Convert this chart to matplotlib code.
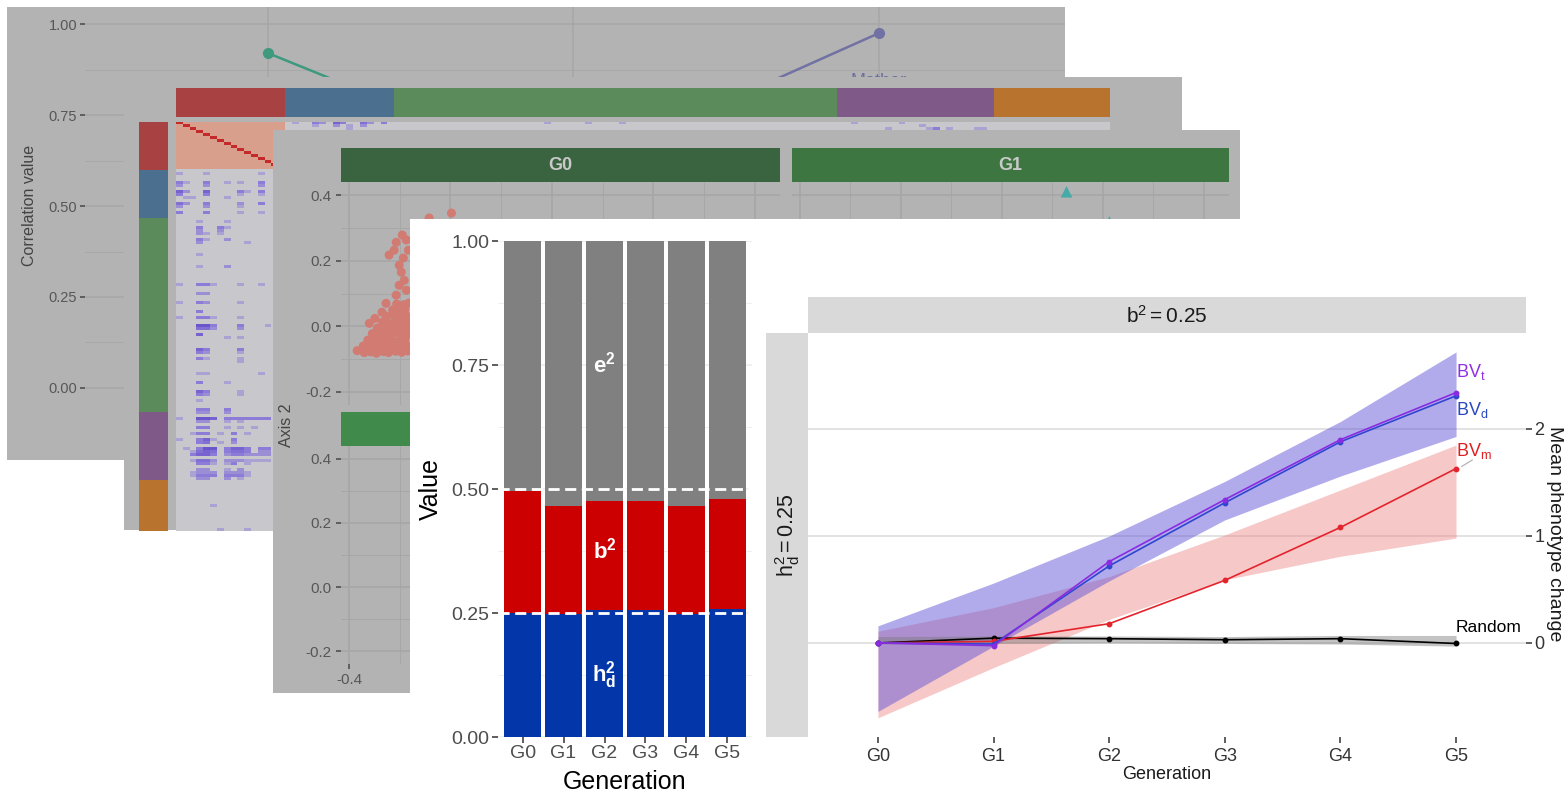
import numpy as np
import matplotlib
matplotlib.use("Agg")
import matplotlib.pyplot as plt
from matplotlib import font_manager
from matplotlib.colors import LinearSegmentedColormap

# ------------------------------------------------------------------ data
# correlation profile (back layer)
corr_x = [0, 1, 2]
corr_teal = [0.92, 0.58]        # positions 0, 1
corr_purple = [0.60, 0.975]     # positions 1, 2

# correlation heatmap: group sizes / colours and visible off-block spots
group_sizes = [16, 16, 65, 23, 17]
group_colors = ["#a84242", "#4b6f8e", "#5b8b5b", "#7f5987", "#b8742f"]
red_within = 0.45
# row index -> strength of negative correlation (tenths) for columns 0..14
corr_rows = {
    17: "2...2.......2..", 20: "42..4..2.2..4..", 21: "3...3.......3..",
    23: "63..6....42.4..", 24: "4...4....2..2..", 25: ".22....2.......",
    27: "53..4....3..4..", 28: "3...3....2.....", 30: "4...4....2..2..",
    33: "...2...2.......", 35: "...4..42.......", 36: "...3..3........",
    37: "...32.2........", 39: "...42..3.......", 40: "...3......2....",
    44: "...2...........", 48: "...2...3.......", 54: "2..442...2..2..",
    57: "...33..........", 60: "2..43....2.....", 63: "...4...........",
    65: "2..442...2.....", 68: "...774...4...2.", 69: "...553...3.....",
    71: "...6...........", 72: ".......2.2.....", 76: "...64....4.....",
    77: "...43....2.....", 79: "...42....2.....", 80: ".........2.....",
    84: "...22.......2..", 87: "...4...2.......", 90: "...64....2.....",
    91: "...43....2.....", 93: "...2...........", 96: "...44..4.......",
    97: "...33..3.......", 99: "2..776.4444444.", 100: "...33..2.2.....",
    102: "...44..2.2.2...", 104: "..244.2.4.2....", 106: "2..462..4......",
    107: "...45.2.3......", 109: ".2.477.4664.44.", 110: "..2565.4554.33.",
    111: "..4664.3443333.", 113: "..2553.3332222.", 114: "...442.24.2....",
    116: "...33..2.3.....", 117: "..2333.3332....", 118: "..2444.4442....",
    119: "...33..3.2.....", 128: ".....2.........", 136: "......2...2....",
}

# ordination scores, generation G0
pc_x = [-0.384, -0.370, -0.357, -0.346, -0.332, -0.322, -0.308, -0.296, -0.284,
        -0.372, -0.361, -0.348, -0.338, -0.324, -0.314, -0.300, -0.288,
        -0.363, -0.350, -0.340, -0.326, -0.316, -0.302, -0.290,
        -0.354, -0.342, -0.328, -0.318, -0.304, -0.294, -0.282,
        -0.344, -0.330, -0.320, -0.306, -0.296, -0.284,
        -0.334, -0.324, -0.310, -0.300, -0.286,
        -0.326, -0.312, -0.302, -0.288,
        -0.314, -0.304, -0.290,
        -0.306, -0.292, -0.282,
        -0.321, -0.311, -0.307, -0.295, -0.287, -0.283, -0.293, -0.301, -0.297,
        -0.291, -0.301, -0.287, -0.307, -0.327, -0.335, -0.349, -0.360,
        -0.242, -0.198]
pc_y = [-0.074, -0.080, -0.078, -0.082, -0.077, -0.080, -0.076, -0.079, -0.075,
        -0.060, -0.063, -0.058, -0.062, -0.059, -0.064, -0.060, -0.057,
        -0.042, -0.045, -0.040, -0.044, -0.041, -0.046, -0.043,
        -0.022, -0.026, -0.023, -0.027, -0.021, -0.025, -0.024,
        -0.005, -0.008, -0.004, -0.007, -0.003, -0.006,
        0.013, 0.010, 0.014, 0.011, 0.015,
        0.031, 0.034, 0.029, 0.033,
        0.050, 0.047, 0.052,
        0.068, 0.066, 0.071,
        0.217, 0.232, 0.256, 0.278, 0.263, 0.232, 0.208, 0.186, 0.165,
        0.140, 0.125, 0.110, 0.095, 0.070, 0.043, 0.024, 0.009,
        0.330, 0.345]
# ordination scores, generation G1
tri_x = [0.128, 0.213]
tri_y = [0.41, 0.318]

# variance components per generation
generations = ["G0", "G1", "G2", "G3", "G4", "G5"]
h_d2 = [0.249, 0.247, 0.256, 0.256, 0.248, 0.259]
b2 = [0.247, 0.218, 0.220, 0.220, 0.217, 0.220]
e2 = [0.504, 0.535, 0.524, 0.524, 0.535, 0.521]

# mean phenotype change under selection
bv_t = [0.0, -0.025, 0.76, 1.34, 1.90, 2.34]
bv_d = [0.0, -0.010, 0.72, 1.31, 1.88, 2.31]
bv_m = [0.0, 0.015, 0.18, 0.585, 1.08, 1.63]
rnd = [0.0, 0.045, 0.040, 0.030, 0.040, -0.005]
bv_lo = [-0.64, -0.03, 0.58, 1.15, 1.56, 1.93]
bv_hi = [0.16, 0.56, 1.00, 1.51, 2.07, 2.72]
bvm_lo = [-0.70, -0.23, 0.22, 0.59, 0.81, 0.98]
bvm_hi = [0.11, 0.33, 0.62, 1.01, 1.43, 1.85]
rnd_lo = [-0.01, -0.005, 0.0, -0.005, -0.01, -0.03]
rnd_hi = [0.06, 0.065, 0.065, 0.06, 0.07, 0.07]

# ------------------------------------------------------------------ fonts
def has_font(name):
    try:
        font_manager.findfont(font_manager.FontProperties(family=name),
                              fallback_to_default=False)
        return True
    except Exception:
        return False

SANS = "Liberation Sans" if has_font("Liberation Sans") else "DejaVu Sans"
plt.rcParams["font.family"] = [SANS, "DejaVu Sans"]
plt.rcParams["mathtext.fontset"] = "custom"
plt.rcParams["mathtext.rm"] = SANS
plt.rcParams["mathtext.sf"] = SANS
plt.rcParams["mathtext.it"] = SANS + ":italic"
plt.rcParams["mathtext.bf"] = SANS + ":bold"
plt.rcParams["axes.unicode_minus"] = False

# ------------------------------------------------------------------ helpers
W, H = 1566, 794
fig = plt.figure(figsize=(W / 100, H / 100), dpi=100)
fig.patch.set_facecolor("white")
PANEL = "#b3b3b3"


def place(x0, y0, x1, y1, z):
    ax = fig.add_axes([x0 / W, 1 - y1 / H, (x1 - x0) / W, (y1 - y0) / H])
    ax.set_zorder(z)
    return ax


def backdrop(x0, y0, x1, y1, z, color):
    ax = place(x0, y0, x1, y1, z)
    ax.set_facecolor(color)
    ax.set_xlim(x0, x1)
    ax.set_ylim(y1, y0)
    ax.set_xticks([])
    ax.set_yticks([])
    for s in ax.spines.values():
        s.set_visible(False)
    return ax


def style_axes(ax, grid, tick, label, size, length=3.5, pad=2):
    ax.set_facecolor("none")
    for s in ax.spines.values():
        s.set_visible(False)
    ax.tick_params(which="major", direction="out", length=length, width=1.1,
                   color=tick, labelcolor=label, labelsize=size, pad=pad)
    ax.tick_params(which="minor", length=0)
    ax.set_axisbelow(True)
    if grid:
        ax.grid(True, which="major", color=grid, lw=1.1)
        ax.grid(True, which="minor", color=grid, lw=0.6)


# ------------------------------------------------------------------ layer 1: correlation profile
bg1 = backdrop(7, 7, 1065, 460, 1, PANEL)
ax1 = place(85, 7, 1065, 460, 2)
style_axes(ax1, "#a6a6a6", "#474747", "#575757", 10.5)
ax1.set_xlim(-0.6, 2.61)
ax1.set_ylim(-0.198, 1.047)
ax1.set_yticks([0, 0.25, 0.5, 0.75, 1.0])
ax1.set_yticklabels(["0.00", "0.25", "0.50", "0.75", "1.00"])
ax1.set_yticks([0.125, 0.375, 0.625, 0.875], minor=True)
ax1.set_xticks(corr_x)
ax1.set_xticklabels([])
ax1.tick_params(axis="x", length=0)
ax1.plot(corr_x[:2], corr_teal, "-o", color="#3f997f", lw=1.8, ms=7)
ax1.plot(corr_x[1:], corr_purple, "-o", color="#7171a4", lw=1.8, ms=7)
ax1.text(corr_x[2], 0.866, "Mother", ha="center", va="top", fontsize=13,
         color="#6f6fa0")
bg1.text(30, 205, "Correlation value", rotation=90, ha="center", va="center",
         fontsize=11.5, color="#444444")

# ------------------------------------------------------------------ layer 2: correlation heatmap
bg2 = backdrop(124, 77, 1182, 530, 3, PANEL)
n = sum(group_sizes)
starts = np.concatenate([[0], np.cumsum(group_sizes)[:-1]])

top_bar = place(176, 88, 1110, 117, 4)
top_bar.barh(0, group_sizes, left=starts, height=1, color=group_colors, lw=0)
top_bar.set_xlim(0, n)
top_bar.set_ylim(-0.5, 0.5)
top_bar.axis("off")

side_bar = place(139, 122, 168, 531, 4)
side_bar.bar(0, group_sizes, bottom=starts, width=1, color=group_colors, lw=0)
side_bar.set_xlim(-0.5, 0.5)
side_bar.set_ylim(n, 0)
side_bar.axis("off")

M = np.zeros((n, n))
M[:group_sizes[0], :group_sizes[0]] = red_within
np.fill_diagonal(M, 1.0)
for r, row in corr_rows.items():
    for c, ch in enumerate(row):
        if ch != ".":
            M[r, c] = M[c, r] = -int(ch) / 10.0

heat_cmap = LinearSegmentedColormap.from_list(
    "corr", [(0.0, "#4b30c0"), (0.3, "#8d7cd8"), (0.5, "#c8c8cc"),
             (0.725, "#d9a08e"), (1.0, "#c42a2a")])
heat = place(176, 122, 1110, 531, 4)
heat.imshow(M, cmap=heat_cmap, vmin=-1, vmax=1, aspect="auto",
            interpolation="nearest", extent=(0, n, n, 0))
heat.axis("off")

# ------------------------------------------------------------------ layer 3: ordination facets
bg3 = backdrop(273, 130, 1240, 693, 5, PANEL)


def strip(x0, y0, x1, y1, color, label):
    ax = backdrop(x0, y0, x1, y1, 6, color)
    ax.text((x0 + x1) / 2, (y0 + y1) / 2, label, ha="center", va="center",
            fontsize=13, fontweight="bold", color="#c9c9c9")
    return ax


def pca_axes(x0, y0, x1, y1, show_y, show_x):
    ax = place(x0, y0, x1, y1, 6)
    style_axes(ax, "#a5a5a5", "#474747", "#575757", 11, pad=3)
    ax.set_xlim(-0.4158, 0.4498)
    ax.set_ylim(-0.2397, 0.4397)
    ax.set_xticks([-0.4, -0.2, 0.0, 0.2, 0.4])
    ax.set_xticks([-0.3, -0.1, 0.1, 0.3], minor=True)
    ax.set_yticks([-0.2, 0.0, 0.2, 0.4])
    ax.set_yticks([-0.1, 0.1, 0.3], minor=True)
    if show_y:
        ax.set_yticklabels(["-0.2", "0.0", "0.2", "0.4"])
    else:
        ax.set_yticklabels([])
        ax.tick_params(axis="y", length=0)
    if show_x:
        ax.set_xticklabels(["-0.4", "-0.2", "0.0", "0.2", "0.4"])
    else:
        ax.set_xticklabels([])
        ax.tick_params(axis="x", length=0)
    return ax


strip(341, 148, 780, 182, "#3a6340", "G0")
strip(792, 148, 1229, 182, "#3e7642", "G1")
strip(341, 412, 780, 446, "#408a4c", "G2")
ax_g0 = pca_axes(341, 182, 780, 405, True, False)
ax_g1 = pca_axes(792, 182, 1229, 405, False, False)
ax_g2 = pca_axes(341, 446, 780, 664, True, True)
ax_g0.scatter(pc_x, pc_y, s=42, color="#d27b72", edgecolors="none")
ax_g1.scatter(tri_x, tri_y, s=70, marker="^", color="#46aaa6", edgecolors="none")
bg3.text(287, 425, "Axis 2", rotation=90, ha="center", va="center",
         fontsize=11.5, color="#444444")

# ------------------------------------------------------------------ layer 4: variance components + response
bg4 = backdrop(410, 219, 1566, 794, 7, "white")

gx = np.arange(len(generations))
h_arr, b_arr, e_arr = np.array(h_d2), np.array(b2), np.array(e2)

ax_bar = place(498, 241, 752, 737, 8)
style_axes(ax_bar, "#ececec", "#333333", "#4d4d4d", 14, length=4, pad=2)
ax_bar.bar(gx, h_arr, width=0.9, color="#0336a8", lw=0, zorder=2)
ax_bar.bar(gx, b_arr, bottom=h_arr, width=0.9, color="#cc0000", lw=0, zorder=2)
ax_bar.bar(gx, e_arr, bottom=h_arr + b_arr, width=0.9, color="#808080", lw=0,
           zorder=2)
for lvl in (0.5, 0.25):
    ax_bar.axhline(lvl, color="white", lw=2, ls=(0, (4, 2)), zorder=3)
ax_bar.set_xlim(-0.6, 5.6)
ax_bar.set_ylim(0, 1.0)
ax_bar.set_xticks(gx)
ax_bar.set_xticklabels(generations)
ax_bar.set_yticks([0, 0.25, 0.5, 0.75, 1.0])
ax_bar.set_yticklabels(["0.00", "0.25", "0.50", "0.75", "1.00"])
ax_bar.set_yticks([0.125, 0.375, 0.625, 0.875], minor=True)
ax_bar.grid(False, axis="x", which="both")
for txt, yv in ((r"$\mathbf{e^{2}}$", 0.75), (r"$\mathbf{b^{2}}$", 0.375),
                (r"$\mathbf{h_{d}^{2}}$", 0.125)):
    ax_bar.text(2, yv, txt, ha="center", va="center", color="white",
                fontsize=16, zorder=4)
bg4.text(431, 489, "Value", rotation=90, ha="center", va="center",
         fontsize=18, color="black")
bg4.text(625, 782, "Generation", ha="center", va="center", fontsize=18,
         color="black")

# facet strips of the response panel
top_strip = backdrop(808, 297, 1526, 333, 8, "#d9d9d9")
top_strip.text(1167, 316, r"$\mathrm{b^{2} = 0.25}$", ha="center",
               va="center", fontsize=15, color="#1a1a1a")
side_strip = backdrop(766, 333, 808, 737, 8, "#d9d9d9")
side_strip.text(788, 535, r"$\mathrm{h_{d}^{2} = 0.25}$", rotation=90,
                ha="center", va="center", fontsize=15.5, color="#1a1a1a")

ax_ln = place(808, 333, 1526, 737, 8)
style_axes(ax_ln, None, "#333333", "#333333", 13, length=4, pad=2)
ax_ln.set_xlim(-0.605, 5.605)
ax_ln.set_ylim(-0.879, 2.897)
ax_ln.set_yticks([0, 1, 2])
ax_ln.set_yticklabels(["0", "1", "2"])
ax_ln.yaxis.tick_right()
ax_ln.tick_params(axis="x", pad=4)
ax_ln.grid(True, axis="y", which="major", color="#e2e2e2", lw=1.4)
ax_ln.set_xticks(gx)
ax_ln.set_xticklabels(generations)

ax_ln.fill_between(gx, bvm_lo, bvm_hi, color="#ee7e7e", alpha=0.42, lw=0, zorder=1)
ax_ln.fill_between(gx, bv_lo, bv_hi, color="#6458d8", alpha=0.5, lw=0, zorder=2)
ax_ln.fill_between(gx, rnd_lo, rnd_hi, color="#7a7a7a", alpha=0.45, lw=0, zorder=3)
for vals, col in ((rnd, "black"), (bv_m, "#e4242c"), (bv_d, "#3046d0"),
                  (bv_t, "#8a2be2")):
    ax_ln.plot(gx, vals, color=col, lw=1.2, marker="o", ms=3.2, zorder=4)

label_x = gx[-1]
ax_ln.text(label_x, 2.53, r"BV$_\mathrm{t}$", color="#9030e0", fontsize=13,
           ha="left", va="center", zorder=5)
ax_ln.text(label_x, 2.18, r"BV$_\mathrm{d}$", color="#2a48c0", fontsize=13,
           ha="left", va="center", zorder=5)
ax_ln.text(label_x, 1.79, r"BV$_\mathrm{m}$", color="#e02020", fontsize=13,
           ha="left", va="center", zorder=5)
ax_ln.plot([label_x + 0.05, label_x + 0.14], [bv_m[-1] + 0.02, 1.79 - 0.08],
           color="#b5b5b5", lw=0.9, zorder=5)
ax_ln.text(label_x, 0.14, "Random", color="black", fontsize=12.5,
           ha="left", va="center", zorder=5)

bg4.text(1167, 775, "Generation", ha="center", va="center", fontsize=13,
         color="#1a1a1a")
bg4.text(1554, 534, "Mean phenotype change", rotation=-90, ha="center",
         va="center", fontsize=14, color="#1a1a1a")

fig.savefig("out.png", dpi=100, facecolor="white")
